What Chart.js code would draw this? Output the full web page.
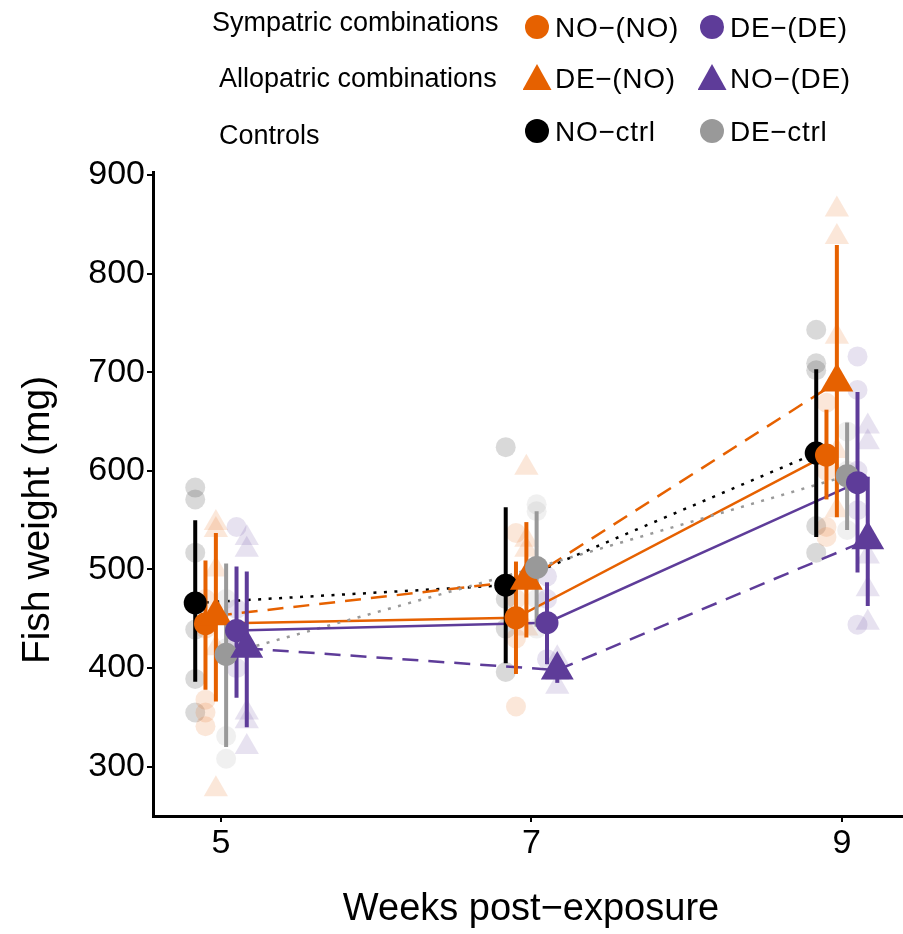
<!DOCTYPE html>
<html>
<head>
<meta charset="utf-8">
<script src="https://cdn.jsdelivr.net/npm/chart.js@4.4.0/dist/chart.umd.min.js"></script>
<style>
  html, body { margin: 0; padding: 0; background: #fff; }
  #wrap { position: relative; width: 903px; height: 934px; font-family: "Liberation Sans", Arial, sans-serif; }
  #chart { position: absolute; left: 0; top: 0; }
  .lg { position: absolute; font-size: 27px; line-height: 27px; color: #000; white-space: nowrap; }
  .it { font-size: 28px; line-height: 28px; letter-spacing: 0.7px; }
  .mk { position: absolute; }
</style>
</head>
<body>
<div id="wrap">
  <canvas id="chart" width="903" height="934"></canvas>
</div>
<script>
// Weeks and group labels
const weeks = [5, 7, 9];
const yTicks = [300, 400, 500, 600, 700, 800, 900];
const groups = ['NO−ctrl', 'NO−(NO)', 'DE−(NO)', 'DE−ctrl', 'DE−(DE)', 'NO−(DE)'];

// Group means (mg) at weeks 5, 7, 9
const meanNOctrl = [466, 484, 618];
const meanNONO   = [445, 451, 616];
const meanDENO   = [453, 489, 690];
const meanDEctrl = [414, 502, 595];
const meanDEDE   = [438, 446, 588];
const meanNODE   = [420, 398, 530];

// Error bar limits
const lowNOctrl  = [386, 405, 533], highNOctrl = [550, 563, 703];
const lowNONO    = [378, 394, 571], highNONO   = [509, 508, 662];
const lowDENO    = [366, 431, 553], highDENO   = [537, 548, 829];
const lowDEctrl  = [320, 442, 540], highDEctrl = [506, 559, 649];
const lowDEDE    = [370, 404, 497], highDEDE   = [503, 487, 680];
const lowNODE    = [340, 385, 463], highNODE   = [498, 412, 594];

// Individual fish weights [week, mg]
const rawNOctrl = [[5,583],[5,571],[5,517],[5,439],[5,389],[5,355],[7,624],[7,470],[7,440],[7,396],[9,743],[9,709],[9,702],[9,620],[9,544],[9,517]];
const rawNONO   = [[5,470],[5,440],[5,368],[5,355],[5,341],[7,537],[7,470],[7,430],[7,361],[9,669],[9,600],[9,543],[9,533]];
const rawDENO   = [[5,547],[5,540],[5,500],[5,420],[5,277],[7,603],[7,530],[7,520],[7,440],[9,865],[9,837],[9,736],[9,620],[9,560]];
const rawDEctrl = [[5,470],[5,420],[5,331],[5,308],[7,566],[7,559],[7,470],[7,440],[9,640],[9,600],[9,540]];
const rawDEDE   = [[5,543],[5,460],[5,430],[5,400],[7,493],[7,470],[7,409],[9,716],[9,682],[9,600],[9,560],[9,444]];
const rawNODE   = [[5,532],[5,520],[5,355],[5,346],[5,320],[7,410],[7,395],[7,381],[9,645],[9,629],[9,513],[9,480],[9,446]];

const means = [meanNOctrl, meanNONO, meanDENO, meanDEctrl, meanDEDE, meanNODE];
const lows  = [lowNOctrl, lowNONO, lowDENO, lowDEctrl, lowDEDE, lowNODE];
const highs = [highNOctrl, highNONO, highDENO, highDEctrl, highDEDE, highNODE];
const raws  = [rawNOctrl, rawNONO, rawDENO, rawDEctrl, rawDEDE, rawNODE];

// styling per group
const colors = ['#000000', '#E66100', '#E66100', '#999999', '#5E3C99', '#5E3C99'];
const shapes = ['circle', 'circle', 'triangle', 'circle', 'circle', 'triangle'];
const dashes = [[3, 7.5], [], [16, 10], [3, 7.5], [], [16, 10]];
const DODGE = [-0.166, -0.1, -0.033, 0.033, 0.1, 0.166];
const family = '"Liberation Sans", Arial, sans-serif';

function alpha(hex, a) {
  const n = parseInt(hex.slice(1), 16);
  return `rgba(${(n >> 16) & 255}, ${(n >> 8) & 255}, ${n & 255}, ${a})`;
}

let datasets = [];

// faint individual points
groups.forEach((g, gi) => {
  datasets.push({
    label: g + ' raw',
    data: raws[gi].map(p => ({ x: p[0] + DODGE[gi], y: p[1] })),
    pointStyle: shapes[gi],
    pointRadius: shapes[gi] === 'triangle' ? 14 : 10,
    pointHoverRadius: shapes[gi] === 'triangle' ? 14 : 10,
    backgroundColor: alpha(colors[gi], 0.15),
    borderWidth: 0,
    showLine: false
  });
});

// lines between means
groups.forEach((g, gi) => {
  datasets.push({
    label: g + ' line',
    data: weeks.map((w, i) => ({ x: w + DODGE[gi], y: means[gi][i] })),
    showLine: true,
    borderColor: colors[gi],
    borderWidth: 2.5,
    borderDash: dashes[gi],
    pointRadius: 0,
    pointHoverRadius: 0,
    fill: false
  });
});
const lastLineIndex = datasets.length - 1;

// mean points
groups.forEach((g, gi) => {
  datasets.push({
    label: g,
    data: weeks.map((w, i) => ({ x: w + DODGE[gi], y: means[gi][i] })),
    pointStyle: shapes[gi],
    pointRadius: shapes[gi] === 'triangle' ? 19 : 11.5,
    pointHoverRadius: shapes[gi] === 'triangle' ? 19 : 11.5,
    backgroundColor: colors[gi],
    borderWidth: 0,
    showLine: false
  });
});

// draw in array order (later on top)
datasets.forEach((d, i) => { d.order = datasets.length - i; });

// error bars drawn after the lines, under the mean points
const errorBars = {
  id: 'errorBars',
  afterDatasetDraw(chart, args) {
    if (args.index !== lastLineIndex) return;
    const { ctx, scales: { x, y } } = chart;
    ctx.save();
    ctx.lineWidth = 4;
    groups.forEach((g, gi) => {
      ctx.strokeStyle = colors[gi];
      weeks.forEach((w, wi) => {
        const px = x.getPixelForValue(w + DODGE[gi]);
        ctx.beginPath();
        ctx.moveTo(px, y.getPixelForValue(lows[gi][wi]));
        ctx.lineTo(px, y.getPixelForValue(highs[gi][wi]));
        ctx.stroke();
      });
    });
    ctx.restore();
  }
};

// axis titles
const axisTitles = {
  id: 'axisTitles',
  afterDraw(chart) {
    const ctx = chart.ctx;
    ctx.save();
    ctx.fillStyle = '#000';
    ctx.textAlign = 'center';
    ctx.textBaseline = 'middle';
    ctx.font = '38px ' + family;
    ctx.fillText('Weeks post−exposure', 531, 910);
    ctx.font = '39px ' + family;
    ctx.translate(38, 520);
    ctx.rotate(-Math.PI / 2);
    ctx.fillText('Fish weight (mg)', 0, 0);
    ctx.restore();
  }
};

const axisStyle = {
  grid: { display: true, drawOnChartArea: false, drawTicks: true, tickLength: 6, color: '#000', lineWidth: 2 },
  border: { display: true, color: '#000', width: 3 }
};

new Chart(document.getElementById('chart'), {
  type: 'scatter',
  data: { datasets },
  options: {
    responsive: false,
    animation: false,
    events: [],
    layout: { autoPadding: false, padding: { left: 0, right: 0, top: 172, bottom: 0 } },
    plugins: { legend: { display: false }, tooltip: { enabled: false } },
    scales: {
      x: {
        type: 'linear', min: 4.562, max: 9.393,
        afterBuildTicks: s => { s.ticks = weeks.map(v => ({ value: v })); },
        afterFit: s => { s.height = 118; },
        ticks: { color: '#000', font: { size: 34, family }, padding: 1, maxRotation: 0 },
        ...axisStyle
      },
      y: {
        type: 'linear', min: 250, max: 903,
        afterBuildTicks: s => { s.ticks = yTicks.map(v => ({ value: v })); },
        afterFit: s => { s.width = 153; },
        ticks: { color: '#000', font: { size: 34, family }, padding: 2 },
        ...axisStyle
      }
    }
  },
  plugins: [errorBars, axisTitles]
});

// legend (HTML)
const legendTitles = ['Sympatric combinations', 'Allopatric combinations', 'Controls'];
const legendTitleX = [212, 219, 219];
const legendTitleY = [23, 79, 136];
const legendItemY = [27, 78, 131];
const legendItems = [[1, 4], [2, 5], [0, 3]];
const wrap = document.getElementById('wrap');
legendTitles.forEach((t, r) => {
  const d = document.createElement('div');
  d.className = 'lg';
  d.textContent = t;
  d.style.left = legendTitleX[r] + 'px';
  d.style.top = (legendTitleY[r] - 14) + 'px';
  wrap.appendChild(d);
  const cy = legendItemY[r];
  legendItems[r].forEach((gi, c) => {
    const cx = c === 0 ? 537 : 712;
    const m = document.createElement('div');
    m.className = 'mk';
    m.style.background = colors[gi];
    if (shapes[gi] === 'circle') {
      m.style.width = m.style.height = '24px';
      m.style.borderRadius = '50%';
      m.style.left = (cx - 12) + 'px';
      m.style.top = (cy - 12) + 'px';
    } else {
      m.style.width = '29px'; m.style.height = '26px';
      m.style.clipPath = 'polygon(50% 0, 100% 100%, 0 100%)';
      m.style.left = (cx - 14.5) + 'px';
      m.style.top = (cy - 14) + 'px';
    }
    wrap.appendChild(m);
    const l = document.createElement('div');
    l.className = 'lg it';
    l.textContent = groups[gi];
    l.style.left = (cx + 18) + 'px';
    l.style.top = (cy - 13) + 'px';
    wrap.appendChild(l);
  });
});
</script>
</body>
</html>
